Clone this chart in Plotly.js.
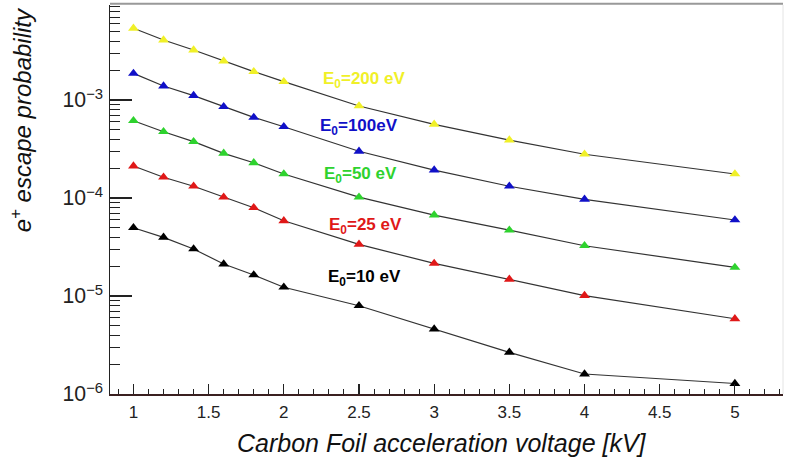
<!DOCTYPE html>
<html>
<head>
<meta charset="utf-8">
<script src="https://cdn.plot.ly/plotly-3.0.1.min.js"></script>
<style>html,body{margin:0;padding:0;background:#fff;}#chart{width:786px;height:464px;}</style>
</head>
<body>
<div id="chart"></div>
<script>
// ---- data ----
const voltage = [1, 1.2, 1.4, 1.6, 1.8, 2, 2.5, 3, 3.5, 4, 5];
const e200 = [5.4e-3, 4.1e-3, 3.24e-3, 2.5e-3, 1.95e-3, 1.54e-3, 8.7e-4, 5.65e-4, 3.9e-4, 2.8e-4, 1.76e-4];
const e100 = [1.87e-3, 1.39e-3, 1.11e-3, 8.55e-4, 6.65e-4, 5.34e-4, 3.0e-4, 1.93e-4, 1.32e-4, 9.7e-5, 5.97e-5];
const e50  = [6.15e-4, 4.75e-4, 3.76e-4, 2.86e-4, 2.29e-4, 1.76e-4, 1.02e-4, 6.7e-5, 4.7e-5, 3.26e-5, 1.96e-5];
const e25  = [2.12e-4, 1.63e-4, 1.32e-4, 1.02e-4, 7.96e-5, 5.86e-5, 3.37e-5, 2.15e-5, 1.48e-5, 1.01e-5, 5.86e-6];
const e10  = [4.98e-5, 3.97e-5, 3.02e-5, 2.12e-5, 1.64e-5, 1.23e-5, 7.96e-6, 4.6e-6, 2.66e-6, 1.6e-6, 1.28e-6];
const seriesLabels = ["E<sub>0</sub>=200 eV", "E<sub>0</sub>=100eV", "E<sub>0</sub>=50 eV", "E<sub>0</sub>=25 eV", "E<sub>0</sub>=10 eV"];
const xTitle = "Carbon Foil acceleration voltage [kV]";
const yTitle = "e<sup>+</sup> escape probability";

// ---- styling ----
const series = [e200, e100, e50, e25, e10];
const colors = ["#f0f028", "#1010c8", "#2ed22e", "#e01818", "#000000"];
// label anchor positions (x in data units, y in log10 units)
const labelPos = [[2.247, -2.80], [2.227, -3.27], [2.254, -3.77], [2.287, -4.29], [2.281, -4.82]];
const FONT = "Liberation Sans, Arial, Helvetica, sans-serif";

const traces = series.map((ys, i) => ({
  x: voltage, y: ys, type: "scatter", mode: "lines+markers",
  line: {color: "#333333", width: 1.2},
  marker: {symbol: "triangle-up", size: 9.5, color: colors[i], line: {width: 0}},
  showlegend: false, hoverinfo: "x+y"
}));

const annotations = seriesLabels.map((t, i) => ({
  text: "<b>" + t + "</b>", x: labelPos[i][0], y: labelPos[i][1],
  xref: "x", yref: "y", xanchor: "left", yanchor: "middle", showarrow: false,
  font: {family: FONT, size: 17, color: colors[i]}
}));
annotations.push({
  text: yTitle, textangle: -90, xref: "paper", yref: "paper",
  x: -0.132, y: 0.704, xanchor: "center", yanchor: "middle", showarrow: false,
  font: {family: FONT, size: 24, color: "#111", style: "italic"}
});
annotations.push({
  text: xTitle, xref: "paper", yref: "paper",
  x: 0.4926, y: -0.126, xanchor: "center", yanchor: "middle", showarrow: false,
  font: {family: FONT, size: 25, color: "#111", style: "italic"}
});

const layout = {
  width: 786, height: 464,
  margin: {l: 110, r: 3, t: 5, b: 70},
  paper_bgcolor: "#ffffff", plot_bgcolor: "#ffffff",
  font: {family: FONT, color: "#222"},
  xaxis: {
    range: [0.844, 5.32], tick0: 0, dtick: 0.5,
    ticks: "inside", ticklen: 10, tickwidth: 1.2, tickcolor: "#222",
    minor: {dtick: 0.1, ticks: "inside", ticklen: 5, tickwidth: 1, tickcolor: "#222", showgrid: false},
    showgrid: false, zeroline: false,
    showline: true, linecolor: "#3a2020", linewidth: 1.5,
    tickfont: {family: FONT, size: 17, color: "#222"},
    ticklabelstandoff: 2
  },
  yaxis: {
    type: "log", range: [-6, -2.03], tick0: 0, dtick: 1,
    exponentformat: "power",
    ticks: "inside", ticklen: 22, tickwidth: 1.2, tickcolor: "#222",
    minor: {dtick: "D1", ticks: "inside", ticklen: 10, tickwidth: 1, tickcolor: "#222", showgrid: false},
    showgrid: false, zeroline: false,
    showline: true, linecolor: "#222", linewidth: 1.5,
    tickfont: {family: FONT, size: 17, color: "#222"},
    ticklabelstandoff: 2
  },
  shapes: [
    {type: "line", xref: "paper", yref: "paper", x0: 0, x1: 1, y0: 1.003, y1: 1.003,
     line: {color: "#999999", width: 2}},
    {type: "line", xref: "paper", yref: "paper", x0: 1, x1: 1, y0: 0, y1: 1,
     line: {color: "#e4e4e4", width: 1}}
  ],
  annotations: annotations
};

Plotly.newPlot("chart", traces, layout, {displayModeBar: false, staticPlot: true});
</script>
</body>
</html>
